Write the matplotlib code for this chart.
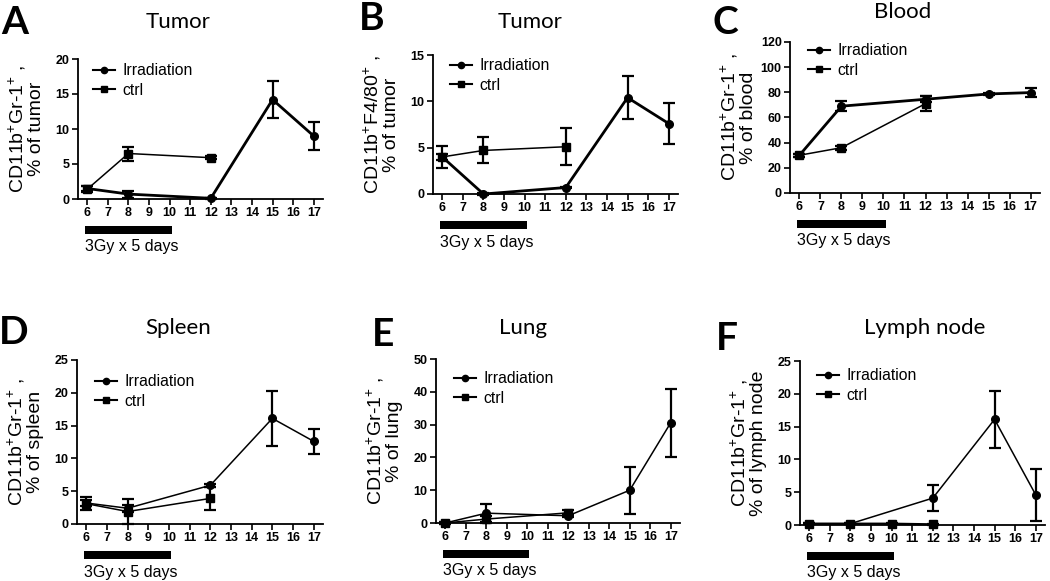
import matplotlib
matplotlib.use('Agg')
import matplotlib.pyplot as plt
from matplotlib.patches import Rectangle
from matplotlib.lines import Line2D

plt.rcParams['font.family'] = ['Liberation Sans', 'DejaVu Sans']
plt.rcParams['mathtext.fontset'] = 'custom'
plt.rcParams['mathtext.rm'] = 'Liberation Sans'
plt.rcParams['mathtext.default'] = 'regular'

# ---------------- data ----------------
x_ticks = [6, 7, 8, 9, 10, 11, 12, 13, 14, 15, 16, 17]
treat_start, treat_end = 6, 10
treat_label = "3Gy x 5 days"
series_names = ["Irradiation", "ctrl"]

panel_letters = ["A", "B", "C", "D", "E", "F"]
panel_titles = ["Tumor", "Tumor", "Blood", "Spleen", "Lung", "Lymph node"]
ylabel_line1 = ["CD11b$^{+}$Gr-1$^{+}$ ,", "CD11b$^{+}$F4/80$^{+}$ ,", "CD11b$^{+}$Gr-1$^{+}$ ,",
                "CD11b$^{+}$Gr-1$^{+}$ ,", "CD11b$^{+}$Gr-1$^{+}$ ,", "CD11b$^{+}$Gr-1$^{+}$ ,"]
ylabel_line2 = ["% of tumor", "% of tumor", "% of blood", "% of spleen", "% of lung", "% of lymph node"]
y_max = [20, 15, 120, 25, 50, 25]
y_step = [5, 5, 20, 5, 10, 5]

A_irr_days = [6, 8, 12, 15, 17]
A_irr = [1.5, 0.7, 0.1, 14.2, 9.0]
A_irr_err = [0.3, 0.5, 0.1, 2.6, 2.0]
A_ctrl_days = [6, 8, 12]
A_ctrl = [1.4, 6.5, 5.9]
A_ctrl_err = [0.4, 1.0, 0.2]

B_irr_days = [6, 8, 12, 15, 17]
B_irr = [4.0, 0.0, 0.7, 10.4, 7.6]
B_irr_err = [0.3, 0.1, 0.1, 2.3, 2.2]
B_ctrl_days = [6, 8, 12]
B_ctrl = [4.0, 4.7, 5.1]
B_ctrl_err = [1.2, 1.4, 2.0]

C_irr_days = [6, 8, 12, 15, 17]
C_irr = [30.0, 69.0, 74.5, 78.7, 79.8]
C_irr_err = [1.0, 4.0, 2.5, 1.0, 3.5]
C_ctrl_days = [6, 8, 12]
C_ctrl = [30.0, 36.0, 71.0]
C_ctrl_err = [1.0, 1.5, 6.0]

D_irr_days = [6, 8, 12, 15, 17]
D_irr = [3.2, 2.4, 5.9, 16.1, 12.6]
D_irr_err = [0.4, 0.5, 0.2, 4.2, 1.9]
D_ctrl_days = [6, 8, 12]
D_ctrl = [3.1, 1.9, 3.9]
D_ctrl_err = [1.0, 1.9, 1.7]

E_irr_days = [6, 8, 12, 15, 17]
E_irr = [0.0, 3.0, 2.2, 10.0, 30.6]
E_irr_err = [0.3, 2.9, 0.5, 7.2, 10.4]
E_ctrl_days = [6, 8, 12]
E_ctrl = [0.0, 1.2, 3.1]
E_ctrl_err = [0.3, 1.0, 1.0]

F_irr_days = [6, 8, 12, 15, 17]
F_irr = [0.2, 0.2, 4.1, 16.1, 4.6]
F_irr_err = [0.1, 0.1, 2.0, 4.3, 4.0]
F_ctrl_days = [6, 8, 10, 12]
F_ctrl = [0.2, 0.2, 0.2, 0.1]
F_ctrl_err = [0.1, 0.1, 0.1, 0.1]

irr_sets = [(A_irr_days, A_irr, A_irr_err), (B_irr_days, B_irr, B_irr_err), (C_irr_days, C_irr, C_irr_err),
            (D_irr_days, D_irr, D_irr_err), (E_irr_days, E_irr, E_irr_err), (F_irr_days, F_irr, F_irr_err)]
ctrl_sets = [(A_ctrl_days, A_ctrl, A_ctrl_err), (B_ctrl_days, B_ctrl, B_ctrl_err), (C_ctrl_days, C_ctrl, C_ctrl_err),
             (D_ctrl_days, D_ctrl, D_ctrl_err), (E_ctrl_days, E_ctrl, E_ctrl_err), (F_ctrl_days, F_ctrl, F_ctrl_err)]

# ---------------- layout (pixels) ----------------
W, H = 1050, 581
axes_px = [(78, 59, 323, 199), (433, 55, 678, 194), (790, 42, 1040, 193),
           (77, 360, 323, 524), (436, 359, 680, 523), (800, 361, 1045, 525)]
irr_lw = [2.0, 2.0, 2.0, 1.1, 1.1, 1.1]
ctrl_lw = [1.1, 1.1, 1.1, 1.1, 1.1, 1.6]
legend_px = [(15, 13), (17, 12), (18, 10), (18, 23), (18, 21), (17, 16)]
title_px = [(178, 22), (530, 22), (903, 12), (178, 328), (523, 328), (925, 328)]
letter_px = [(15, 22), (372, 19), (725, 23), (14, 333), (383, 335), (727, 338)]

fig = plt.figure(figsize=(W / 100, H / 100), dpi=100)

for i in range(6):
    l, t, r, b = axes_px[i]
    wpx, hpx = r - l, b - t
    ax = fig.add_axes([l / W, 1 - b / H, wpx / W, hpx / H])
    for s in ['top', 'right']:
        ax.spines[s].set_visible(False)
    for s in ['left', 'bottom']:
        ax.spines[s].set_linewidth(1.3)

    dx, dy, de = irr_sets[i]
    cx, cy, ce = ctrl_sets[i]
    ax.errorbar(dx, dy, yerr=de, fmt='none', ecolor='black', elinewidth=1.6, capsize=4.5, capthick=1.6,
                clip_on=False, zorder=3)
    ax.errorbar(cx, cy, yerr=ce, fmt='none', ecolor='black', elinewidth=1.6, capsize=4.5, capthick=1.6,
                clip_on=False, zorder=3)
    ax.plot(dx, dy, '-o', color='black', lw=irr_lw[i], ms=5.5, clip_on=False, zorder=4)
    ax.plot(cx, cy, '-s', color='black', lw=ctrl_lw[i], ms=5.5, clip_on=False, zorder=4)

    ax.set_xlim(5.55, 17.45)
    ax.set_ylim(0, y_max[i])
    ax.set_xticks(x_ticks)
    ax.set_yticks(list(range(0, y_max[i] + 1, y_step[i])))
    ax.tick_params(direction='out', length=4, width=1.2, labelsize=9, pad=2)
    for lab in ax.get_xticklabels() + ax.get_yticklabels():
        lab.set_fontweight('bold')

    ax.set_ylabel(ylabel_line1[i] + "\n" + ylabel_line2[i], fontsize=14, linespacing=1.0)
    ax.yaxis.set_label_coords(-33 / wpx, 0.5)

    handles = [Line2D([], [], color='black', lw=1.5, marker='o', ms=4.5),
               Line2D([], [], color='black', lw=1.5, marker='s', ms=4.5)]
    lx, ly = legend_px[i]
    ax.legend(handles, series_names, loc='upper left', bbox_to_anchor=(lx / wpx, 1 - (ly - 9) / hpx),
              frameon=False, fontsize=11.3, handlelength=1.4, handletextpad=0.45, borderpad=0,
              borderaxespad=0, labelspacing=0.3)

    tr = ax.get_xaxis_transform()
    ax.add_patch(Rectangle((treat_start - 0.1, -35 / hpx), (treat_end - treat_start) + 0.2, 8 / hpx,
                           transform=tr, facecolor='black', edgecolor='none', clip_on=False))
    ax.text(treat_start - 0.1, -48 / hpx, treat_label, transform=tr, fontsize=11.5, ha='left', va='center')

    tx, ty = title_px[i]
    fig.text(tx / W, 1 - ty / H, panel_titles[i], fontsize=16, family=['Lato', 'DejaVu Sans'],
             ha='center', va='center')
    px, py = letter_px[i]
    fig.text(px / W, 1 - py / H, panel_letters[i], fontsize=28, fontweight='bold',
             family=['Lato', 'DejaVu Sans'], ha='center', va='center')

fig.savefig('out.png', dpi=100)
